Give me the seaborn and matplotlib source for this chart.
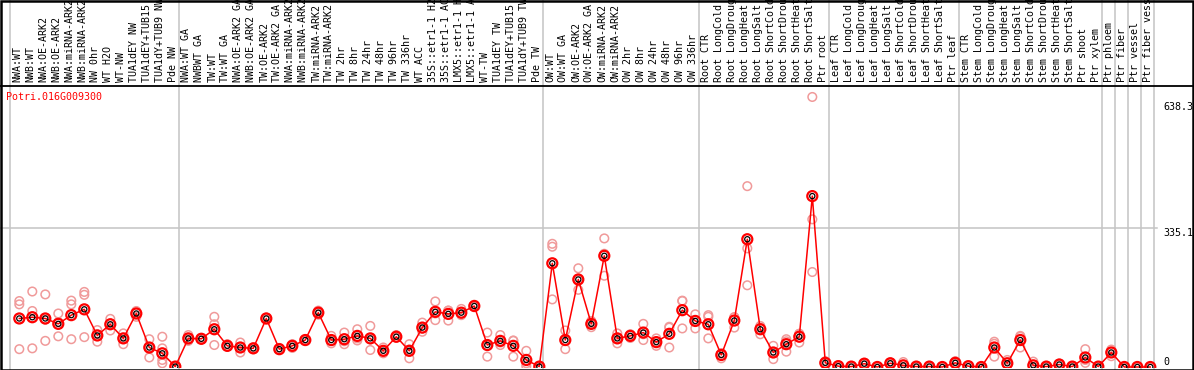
import numpy as np
import pandas as pd
import matplotlib
matplotlib.use('Agg')
import matplotlib.pyplot as plt
import matplotlib.transforms as mtransforms
from matplotlib.patches import Rectangle
import seaborn as sns

# sample labels (one column each)
labels = [
    'NWA:WT', 'NWB:WT', 'NWA:OE-ARK2', 'NWB:OE-ARK2', 'NWA:miRNA-ARK2', 'NWB:miRNA-ARK2',
    'NW 0hr', 'WT H2O', 'WT-NW', 'TUA1dEY NW', 'TUA1dEY+TUB15 NW', 'TUA1dY+TUB9 NW', 'Pde NW',
    'NWA:WT GA', 'NWBWT GA', 'TW:WT', 'TW:WT GA', 'NWA:OE-ARK2 GA', 'NWB:OE-ARK2 GA',
    'TW:OE-ARK2', 'TW:OE-ARK2 GA', 'NWA:miRNA-ARK2 GA', 'NWB:miRNA-ARK2 GA', 'TW:miRNA-ARK2',
    'TW:miRNA-ARK2 GA', 'TW 2hr', 'TW 8hr', 'TW 24hr', 'TW 48hr', 'TW 96hr', 'TW 336hr',
    'WT ACC', '35S::etr1-1 H2O', '35S::etr1-1 ACC', 'LMX5::etr1-1 H2O', 'LMX5::etr1-1 ACC',
    'WT-TW', 'TUA1dEY TW', 'TUA1dEY+TUB15 TW', 'TUA1dY+TUB9 TW', 'Pde TW',
    'OW:WT', 'OW:WT GA', 'OW:OE-ARK2', 'OW:OE-ARK2 GA', 'OW:miRNA-ARK2', 'OW:miRNA-ARK2',
    'OW 2hr', 'OW 8hr', 'OW 24hr', 'OW 48hr', 'OW 96hr', 'OW 336hr',
    'Root CTR', 'Root LongCold', 'Root LongDrought', 'Root LongHeat', 'Root LongSalt',
    'Root ShortCold', 'Root ShortDrought', 'Root ShortHeat', 'Root ShortSalt', 'Ptr root',
    'Leaf CTR', 'Leaf LongCold', 'Leaf LongDrought', 'Leaf LongHeat', 'Leaf LongSalt',
    'Leaf ShortCold', 'Leaf ShortDrought', 'Leaf ShortHeat', 'Leaf ShortSalt', 'Ptr leaf',
    'Stem CTR', 'Stem LongCold', 'Stem LongDrought', 'Stem LongHeat', 'Stem LongSalt',
    'Stem ShortCold', 'Stem ShortDrought', 'Stem ShortHeat', 'Stem ShortSalt', 'Ptr shoot',
    'Ptr xylem', 'Ptr phloem', 'Ptr fiber', 'Ptr vessel', 'Ptr fiber vessel',
]

# number of samples in each group (separated by grey lines)
group_sizes = [13, 28, 12, 10, 10, 11, 1, 1, 1, 1]

# mean expression per sample
means = [
    117, 120, 117, 104, 125, 139, 76, 103, 69, 129, 47, 33, 1,
    69, 68, 91, 51, 47, 45, 117, 43, 51, 65, 131, 65, 67, 75, 69, 39, 73, 39,
    95, 133, 128, 131, 147, 53, 63, 51, 17, 1,
    250, 65, 211, 104, 268, 69, 75, 83, 60, 80, 137, 111,
    103, 29, 112, 308, 91, 35, 55, 73, 412, 10,
    2, 1, 8, 0, 9, 4, 1, 1, 0, 10,
    2, 0, 47, 9, 65, 4, 1, 6, 1, 23, 1,
    35, 0, 0, 0,
]

# replicate values per sample
replicates = [
    [159, 151, 43], [182, 135, 45], [175, 63, 114], [129, 74, 108], [160, 151, 67],
    [181, 174, 72], [89, 61, 79], [116, 105, 88], [81, 55, 70], [135, 131, 121],
    [67, 47, 23], [73, 45, 17, 9], [0, 1, 2],
    [77, 63, 67], [67, 70, 66], [121, 103, 53], [55, 49, 50], [59, 35, 48],
    [47, 43, 45], [118, 119, 115], [46, 42, 42], [46, 55, 51], [67, 63, 65],
    [136, 131, 126], [75, 57, 63], [83, 55, 62], [91, 64, 69], [99, 41, 67],
    [47, 33, 38], [77, 71, 71], [55, 21, 42], [107, 85, 93], [158, 113, 129],
    [136, 112, 136], [140, 125, 128], [150, 145, 146], [83, 25, 51], [77, 53, 59],
    [63, 25, 64], [39, 9, 2], [0, 1, 1],
    [297, 163, 290], [88, 43, 64], [238, 186, 210], [111, 96, 105], [310, 220, 273],
    [81, 57, 69], [79, 70, 76], [104, 65, 79], [69, 51, 60], [95, 47, 97],
    [159, 93, 160], [127, 93, 113],
    [125, 121, 69], [21, 33, 33], [120, 95, 120], [436, 286, 197], [99, 79, 95],
    [51, 19, 35], [67, 37, 62], [80, 59, 80], [651, 356, 229], [14, 8, 9],
    [4, 1, 1], [1, 0, 2], [10, 6, 8], [0, 0, 1], [9, 11, 7], [12, 0, 0],
    [1, 0, 1], [1, 0, 2], [0, 0, 0], [14, 8, 9],
    [3, 2, 2], [0, 0, 0], [61, 25, 56], [17, 5, 5], [75, 47, 73], [13, 0, 0],
    [1, 0, 1], [8, 5, 6], [1, 0, 1], [43, 17, 10], [1, 0, 1],
    [42, 26, 36], [0, 0, 0], [0, 0, 0], [0, 1, 0],
]

gene_id = 'Potri.016G009300'
ytick_values = [638.3, 335.1, 0]
ytick_labels = ['638.3', '335.1', '0']

pos = np.arange(len(labels))
mean_df = pd.DataFrame({'pos': pos, 'value': means})
rep_df = pd.DataFrame(
    [(i, v) for i, reps in enumerate(replicates) for v in reps],
    columns=['pos', 'value'])

W, H = 1194, 370
mono = 'DejaVu Sans Mono'
fs = 7.2

fig = plt.figure(figsize=(W / 100, H / 100), dpi=100)
fig.patch.set_facecolor('white')
ax = fig.add_axes([0, 2 / H, 1, 282 / H])
ax.set_xlim((0 - 19.3) / 13, (W - 19.3) / 13)
ax.set_ylim((367 - 368) / 0.4148, (367 - 86) / 0.4148)
ax.axis('off')

blend = mtransforms.blended_transform_factory(ax.transData, fig.transFigure)

# group separators running through header and plot
bounds = np.concatenate([[0], np.cumsum(group_sizes)]) - 0.715
for b in bounds:
    ax.plot([b, b], [0, 1], transform=blend, color='#c4c4c4', lw=1.1,
            clip_on=False, zorder=1)

# horizontal reference line at mid value
ax.plot([ax.get_xlim()[0], bounds[-1] + 0.25], [335.1, 335.1],
        color='#c4c4c4', lw=1.1, zorder=1)

# replicates
sns.scatterplot(data=rep_df, x='pos', y='value', ax=ax, marker='o', s=38,
                facecolors='none', edgecolor='#f09a9a', linewidth=1.1,
                zorder=2, legend=False)

# mean line and markers
sns.lineplot(data=mean_df, x='pos', y='value', ax=ax, color='red', lw=1.1,
             zorder=3, legend=False)
sns.scatterplot(data=mean_df, x='pos', y='value', ax=ax, marker='o', s=52,
                facecolors='none', edgecolor='red', linewidth=1.6,
                zorder=4, legend=False)
sns.scatterplot(data=mean_df, x='pos', y='value', ax=ax, marker='o', s=14,
                facecolors='none', edgecolor='black', linewidth=0.9,
                zorder=5, legend=False)
ax.set_xlabel('')
ax.set_ylabel('')

# column labels in the header
for i, lab in enumerate(labels):
    ax.text(i - 0.14, (H - 82) / H, lab, transform=blend, rotation=90,
            ha='center', va='bottom', fontsize=fs, family=mono, color='black',
            clip_on=False)

# header separator
fig.add_artist(plt.Line2D([0, 1], [(H - 86) / H, (H - 86) / H],
                          transform=fig.transFigure, color='black', lw=1.3))

# gene id
fig.text(6 / W, (H - 97) / H, gene_id, color='red', fontsize=fs, family=mono,
         ha='left', va='center')

# value labels on the right
for v, t in zip(ytick_values, ytick_labels):
    va = 'bottom' if v == 0 else 'top'
    ax.text(1163 / W, v, t, transform=mtransforms.blended_transform_factory(
        fig.transFigure, ax.transData), fontsize=fs, family=mono,
        ha='left', va=va, color='black', clip_on=False)

# outer frame
fig.add_artist(Rectangle((0.5 / W, 0.5 / H), 1 - 2 / W, 1 - 1.5 / H,
                         transform=fig.transFigure, fill=False,
                         edgecolor='black', lw=1.8))

fig.savefig('out.png', dpi=100)
